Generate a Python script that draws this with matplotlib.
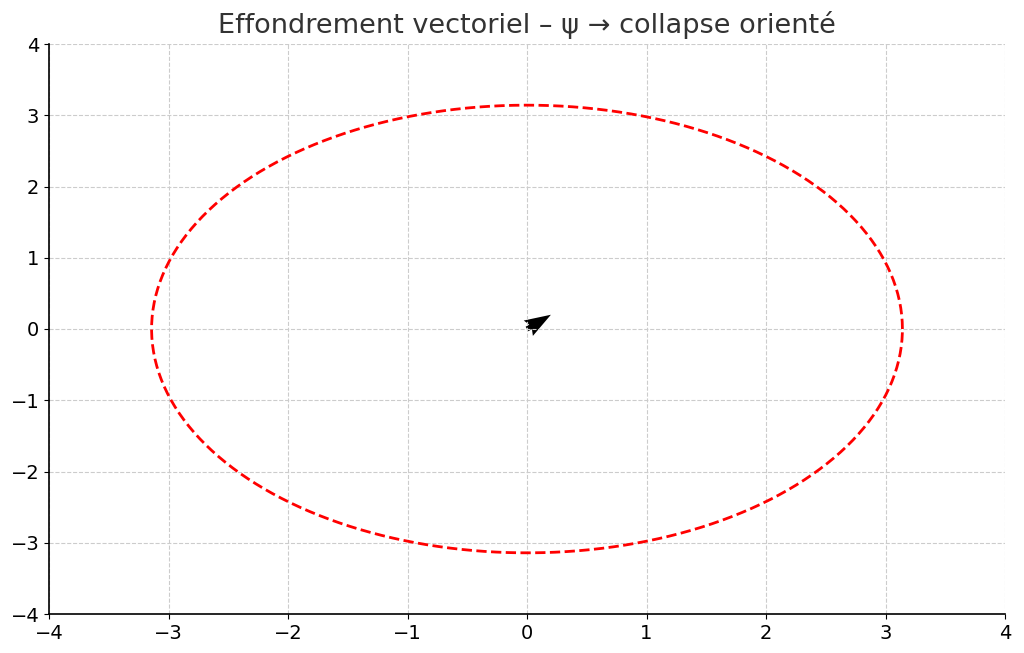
import numpy as np
import matplotlib
matplotlib.use("Agg")
import matplotlib.pyplot as plt

title = "Effondrement vectoriel – ψ → collapse orienté"
radius = np.pi
ticks = [-4, -3, -2, -1, 0, 1, 2, 3, 4]
# arrow vector at origin (u, v)
arrow_u = [0.20]
arrow_v = [0.20]

fig = plt.figure(figsize=(10.24, 6.53), dpi=100)
ax = fig.add_axes([49/1024, 1-614/653, (1005-49)/1024, (614-44)/653])

theta = np.linspace(0, 2*np.pi, 400)
ax.plot(radius*np.cos(theta), radius*np.sin(theta), '--', color='red', lw=2)
ax.quiver([0]*len(arrow_u), [0]*len(arrow_v), arrow_u, arrow_v,
          angles='xy', scale_units='xy', scale=1, color='black',
          width=0.0055, headwidth=3.4, headlength=5, headaxislength=4.5)

ax.set_xlim(-4, 4)
ax.set_ylim(-4, 4)
ax.set_xticks(ticks)
ax.set_yticks(ticks)
ax.grid(True, linestyle='--', color='#cccccc', lw=0.8)
ax.spines['top'].set_visible(False)
ax.spines['right'].set_visible(False)
ax.spines['left'].set_linewidth(1.2)
ax.spines['bottom'].set_linewidth(1.2)
ax.tick_params(labelsize=14, colors='black')
ax.set_title(title, fontsize=19.5, color='#333333', pad=8)
fig.savefig("out.png", dpi=100)
